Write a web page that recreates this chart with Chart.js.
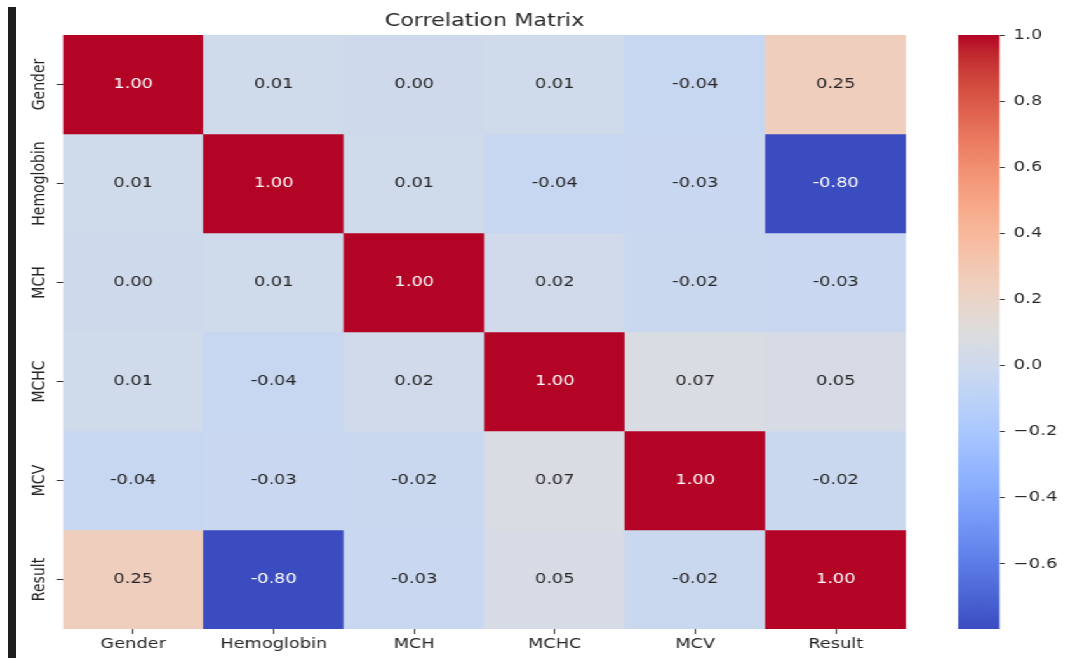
<!DOCTYPE html>
<html>
<head>
<meta charset="utf-8">
<script src="https://cdn.jsdelivr.net/npm/chart.js@4.4.1/dist/chart.umd.min.js"></script>
<style>
  html, body { margin: 0; padding: 0; background: #fff; overflow: hidden; }
  #bar { position: absolute; left: 8px; top: 7px; width: 8px; height: 651px; background: #1e1e1e; }
  #stage { position: absolute; left: 0; top: 0; height: 658px; transform-origin: 0 0; }
  #main { position: absolute; left: 0; top: 0; width: 740px; height: 658px; }
  #cbar { position: absolute; left: 740px; top: 0; height: 658px; }
</style>
</head>
<body>
<div id="stage">
  <div id="main"><canvas id="heat"></canvas></div>
  <div id="cbar"><canvas id="scale"></canvas></div>
</div>
<div id="bar"></div>
<script>
// variables, same order on both axes
var labels = ['Gender', 'Hemoglobin', 'MCH', 'MCHC', 'MCV', 'Result'];

// correlation rows
var gender     = [1.00, 0.01, 0.00, 0.01, -0.04, 0.25];
var hemoglobin = [0.01, 1.00, 0.01, -0.04, -0.03, -0.80];
var mch        = [0.00, 0.01, 1.00, 0.02, -0.02, -0.03];
var mchc       = [0.01, -0.04, 0.02, 1.00, 0.07, 0.05];
var mcv        = [-0.04, -0.03, -0.02, 0.07, 1.00, -0.02];
var result     = [0.25, -0.80, -0.03, 0.05, -0.02, 1.00];
var rows = [gender, hemoglobin, mch, mchc, mcv, result];

// colorbar
var colorMin = -0.797, colorMax = 1.0;
var cbarTicks = [-0.6, -0.4, -0.2, 0.0, 0.2, 0.4, 0.6, 0.8, 1.0];

// coolwarm (Moreland), 33 stops
var coolwarm = [
  [59,76,192],[68,90,204],[77,104,215],[87,117,225],[98,130,234],[108,142,241],
  [119,154,247],[130,165,251],[141,176,254],[152,185,255],[163,194,255],[174,201,253],
  [184,208,249],[194,213,244],[204,217,238],[213,219,230],[221,221,221],[229,216,209],
  [236,211,197],[241,204,184],[245,196,172],[247,187,159],[247,177,147],[247,166,134],
  [244,154,123],[241,141,111],[236,127,99],[229,112,89],[222,96,77],[213,80,66],
  [203,62,56],[192,40,47],[180,4,38]
];

function cmap(v) {
  var t = (v - colorMin) / (colorMax - colorMin);
  t = Math.max(0, Math.min(1, t)) * (coolwarm.length - 1);
  var i = Math.min(Math.floor(t), coolwarm.length - 2), f = t - i;
  var a = coolwarm[i], b = coolwarm[i + 1];
  return 'rgb(' + a.map(function (c, k) { return Math.round(c + (b[k] - c) * f); }).join(',') + ')';
}

// the source image is stretched sideways, so draw narrow and scale up
var STRETCH = 1.27;
var W = 1065 / STRETCH;
var stage = document.getElementById('stage');
stage.style.width = W + 'px';
stage.style.transform = 'scaleX(' + STRETCH + ')';
document.getElementById('cbar').style.width = (W - 740) + 'px';

var FONT = 'DejaVu Sans';
var TEXT = '#262626';

// cell numbers
var annotate = {
  id: 'annotate',
  afterDatasetsDraw: function (chart) {
    var ctx = chart.ctx, x = chart.scales.x, y = chart.scales.y;
    ctx.save();
    ctx.font = '14px "' + FONT + '"';
    ctx.textAlign = 'center';
    ctx.textBaseline = 'middle';
    rows.forEach(function (row, i) {
      row.forEach(function (v, j) {
        ctx.fillStyle = Math.abs(v) > 0.5 ? '#ffffff' : TEXT;
        ctx.fillText(v.toFixed(2), x.getPixelForValue(j), y.getPixelForValue(i + 0.5));
      });
    });
    ctx.restore();
  }
};

// rotated row names
var rowLabels = {
  id: 'rowLabels',
  afterDraw: function (chart) {
    var ctx = chart.ctx, y = chart.scales.y;
    ctx.save();
    ctx.font = '14px "' + FONT + '"';
    ctx.fillStyle = TEXT;
    ctx.textAlign = 'center';
    ctx.textBaseline = 'middle';
    labels.forEach(function (name, i) {
      ctx.save();
      ctx.translate(31, y.getPixelForValue(i + 0.5));
      ctx.rotate(-Math.PI / 2);
      ctx.fillText(name, 0, 0);
      ctx.restore();
    });
    ctx.restore();
  }
};

new Chart(document.getElementById('heat'), {
  type: 'bar',
  data: {
    labels: labels,
    datasets: rows.map(function (row, i) {
      return {
        label: labels[i],
        data: row.map(function () { return [i, i + 1]; }),
        backgroundColor: row.map(cmap),
        borderWidth: 0,
        barPercentage: 1,
        categoryPercentage: 1,
        grouped: false
      };
    })
  },
  options: {
    responsive: true,
    maintainAspectRatio: false,
    animation: false,
    layout: { padding: { left: 0, right: 26.6, top: 0, bottom: 0 } },
    plugins: {
      legend: { display: false },
      tooltip: { enabled: false },
      title: {
        display: true,
        text: 'Correlation Matrix',
        fullSize: false,
        color: TEXT,
        font: { family: FONT, size: 17.5, weight: 'normal' },
        padding: { top: 11, bottom: 3 }
      }
    },
    scales: {
      x: {
        type: 'category',
        grid: { display: true, drawOnChartArea: false, offset: false, tickLength: 5, color: '#333', tickWidth: 1 },
        border: { display: false },
        ticks: { color: TEXT, font: { family: FONT, size: 14 }, padding: 2, maxRotation: 0 },
        afterFit: function (s) { s.height = 29; }
      },
      y: {
        type: 'linear',
        reverse: true,
        min: 0,
        max: 6,
        grid: { display: true, drawOnChartArea: false, tickLength: 5, color: '#333' },
        border: { display: false },
        ticks: { display: false },
        afterBuildTicks: function (s) {
          s.ticks = labels.map(function (_, i) { return { value: i + 0.5 }; });
        },
        afterFit: function (s) { s.width = 49.6; }
      }
    }
  },
  plugins: [annotate, rowLabels]
});

new Chart(document.getElementById('scale'), {
  type: 'bar',
  data: {
    labels: [''],
    datasets: [{
      data: [[colorMin, colorMax]],
      borderWidth: 0,
      barPercentage: 1,
      categoryPercentage: 1,
      backgroundColor: function (c) {
        var chart = c.chart;
        if (!chart.chartArea) return null;
        var y = chart.scales.y;
        var g = chart.ctx.createLinearGradient(0, y.getPixelForValue(colorMin), 0, y.getPixelForValue(colorMax));
        coolwarm.forEach(function (col, k) {
          g.addColorStop(k / (coolwarm.length - 1), 'rgb(' + col.join(',') + ')');
        });
        return g;
      }
    }]
  },
  options: {
    responsive: true,
    maintainAspectRatio: false,
    animation: false,
    layout: { padding: { left: 14.3, right: 0, top: 35, bottom: 29 } },
    plugins: { legend: { display: false }, tooltip: { enabled: false } },
    scales: {
      x: { display: false },
      y: {
        type: 'linear',
        position: 'right',
        min: colorMin,
        max: colorMax,
        grid: { display: true, drawOnChartArea: false, tickLength: 4, color: '#333' },
        border: { display: false },
        ticks: {
          color: TEXT,
          font: { family: FONT, size: 14 },
          padding: 7,
          callback: function (v) { return (v < 0 ? '\u2212' : '') + Math.abs(v).toFixed(1); }
        },
        afterBuildTicks: function (s) {
          s.ticks = cbarTicks.map(function (v) { return { value: v }; });
        },
        afterFit: function (s) { s.width = W - 740 - 14.3 - 32.3; }
      }
    }
  }
});
</script>
</body>
</html>
